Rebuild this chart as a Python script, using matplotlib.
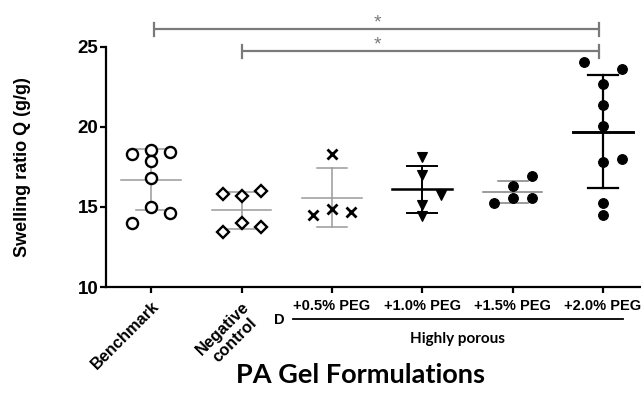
import numpy as np
import matplotlib
matplotlib.use('Agg')
import matplotlib.pyplot as plt

## data
groups = ['Benchmark', 'Negative\ncontrol', '+0.5% PEG', '+1.0% PEG', '+1.5% PEG', '+2.0% PEG']

bench = [18.31, 18.56, 18.46, 17.89, 16.79, 15.02, 14.60, 14.02]
neg = [15.81, 15.69, 16.02, 14.02, 13.42, 13.73]
peg05 = [18.31, 14.50, 14.86, 14.67]
peg10 = [18.15, 17.00, 15.75, 15.13, 14.44]
peg15 = [15.23, 16.33, 15.58, 16.94, 15.58]
peg20 = [24.08, 23.63, 22.67, 21.38, 20.08, 17.79, 18.00, 15.23, 14.50]

# column of each point inside its group (-1 left, 0 centre, 1 right)
bench_col = [-1, 0, 1, 0, 0, 0, 1, -1]
neg_col = [-1, 0, 1, 0, -1, 1]
peg05_col = [0, -1, 0, 1]
peg10_col = [0, 0, 1, 0, 0]
peg15_col = [-1, 0, 0, 1, 1]
peg20_col = [-1, 1, 0, 0, 0, 0, 1, 0, 0]

## styles
AR = 'Liberation Sans'
GREY = '#9a9a9a'
series = [
    (bench, bench_col, dict(marker='o', mfc='white', mec='black'), GREY, 1.1),
    (neg, neg_col, dict(marker='D', mfc='white', mec='black', ms=6.3), GREY, 1.1),
    (peg05, peg05_col, dict(marker='x', mec='black', mew=2.0, ms=7), GREY, 1.1),
    (peg10, peg10_col, dict(marker='v', mfc='black', mec='black', ms=7, mew=0.8), 'black', 1.4),
    (peg15, peg15_col, dict(marker='o', mfc='black', mec='black', ms=7, mew=0.8), '#808080', 1.1),
    (peg20, peg20_col, dict(marker='o', mfc='black', mec='black', ms=7, mew=0.8), 'black', 1.6),
]

fig = plt.figure(figsize=(6.41, 3.98), dpi=100)
ax = fig.add_axes([106/641, 1-287/398, 1-106/641, 280/398])

for i, (vals, cols, mk, ecol, lw) in enumerate(series):
    vals = np.array(vals)
    xs = i + 0.21*np.array(cols)
    style = dict(ls='none', ms=8, mew=1.7)
    style.update(mk)
    m = vals.mean()
    sd = vals.std(ddof=1)
    # error bar + mean line
    ax.plot([i, i], [m-sd, m+sd], color=ecol, lw=lw, zorder=2)
    ax.plot([i-0.165, i+0.165], [m+sd, m+sd], color=ecol, lw=lw, zorder=2)
    ax.plot([i-0.165, i+0.165], [m-sd, m-sd], color=ecol, lw=lw, zorder=2)
    ax.plot([i-0.33, i+0.33], [m, m], color=ecol, lw=lw*1.3 if ecol == 'black' else lw, zorder=2)
    ax.plot(xs, vals, zorder=3, **style)

ax.set_xlim(-0.5, 5.42)
ax.set_ylim(10, 27.5)
ax.set_yticks([10, 15, 20, 25])
ax.spines['left'].set_bounds(10, 25)
ax.spines['top'].set_visible(False)
ax.spines['right'].set_visible(False)
ax.spines['left'].set_linewidth(1.6)
ax.spines['bottom'].set_linewidth(1.6)
ax.tick_params(axis='both', width=1.6, length=4.5, direction='out')
ax.tick_params(axis='y', pad=1)
for lab in ax.get_yticklabels():
    lab.set_fontfamily(AR)
    lab.set_fontweight('bold')
    lab.set_fontsize(13.5)

ax.set_xticks(range(len(groups)))
ax.set_xticklabels(groups, fontfamily=AR, fontweight='bold', fontsize=10.5)
ax.tick_params(axis='x', pad=4)
for k, lab in enumerate(ax.get_xticklabels()):
    if k < 2:
        lab.set_rotation(45)
        lab.set_ha('right')
        lab.set_va('top')
        lab.set_rotation_mode('anchor')
        lab.set_multialignment('center')
        lab.set_fontsize(11.8)

# significance bars
sig = '#7a7a7a'
for y, x0, h in [(26.1, 0.035, 0.42), (24.72, 1.01, 0.40)]:
    ax.plot([x0, 4.955], [y, y], color=sig, lw=1.6, clip_on=False, solid_capstyle='butt')
    ax.plot([x0, x0], [y-h, y+h], color=sig, lw=1.6, clip_on=False)
    ax.plot([4.955, 4.955], [y-h, y+h], color=sig, lw=1.6, clip_on=False)
    ax.text(2.5, y+0.4, '*', color=sig, fontsize=14, ha='center', va='center', fontfamily=AR)

# group bracket below the axis
ax.plot([1.571, 5.221], [8.0, 8.0], color='black', lw=1.3, clip_on=False)
ax.text(1.416, 7.95, 'D', fontfamily=AR, fontweight='bold', fontsize=10.5,
        ha='center', va='center', clip_on=False)
ax.text(3.385, 6.75, 'Highly porous', fontfamily='Lato', fontweight='bold', fontsize=11,
        ha='center', va='center', clip_on=False)

fig.text(23/641, 1-167/398, 'Swelling ratio Q (g/g)', rotation=90, fontfamily=AR,
         fontweight='bold', fontsize=13, ha='center', va='center')
fig.text(360/641, 1-375/398, 'PA Gel Formulations', fontfamily='Lato', fontweight='bold',
         fontsize=19.5, ha='center', va='center')

fig.savefig('out.png', dpi=100)
